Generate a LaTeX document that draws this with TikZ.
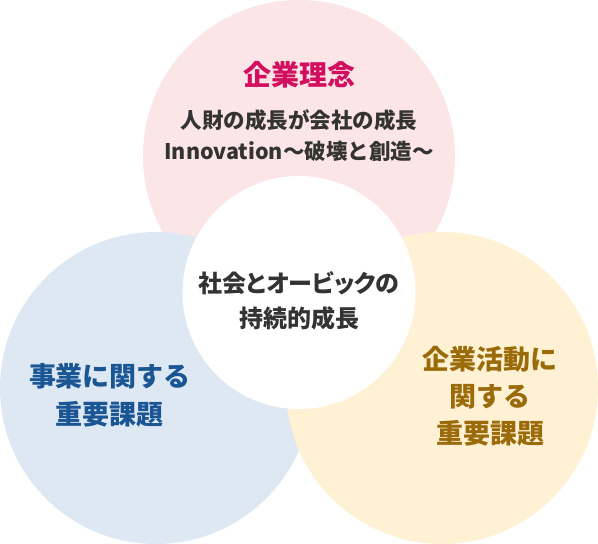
\documentclass[tikz,border=0pt]{standalone}
\usepackage{fontspec}
\setmainfont{Noto Sans CJK JP}
\newfontfamily\jppalt{Noto Sans CJK JP}[RawFeature=+palt]
\definecolor{pinkfill}{HTML}{FCE5E6}
\definecolor{bluefill}{HTML}{DDE8F3}
\definecolor{yellowfill}{HTML}{FEF1D4}
\definecolor{pinktext}{HTML}{D20F5F}
\definecolor{bluetext}{HTML}{1A5594}
\definecolor{goldtext}{HTML}{9B6B0A}
\definecolor{graytext}{HTML}{333333}
\begin{document}
\begin{tikzpicture}[x=1pt,y=-1pt,
  bigcircle/.style={circle,minimum size=312pt,inner sep=0pt,draw=none},
  lbl/.style={align=center,inner sep=0pt,font=\bfseries}]
\useasboundingbox (0,0) rectangle (598,544);
\node[bigcircle,fill=pinkfill] (pink) at (299,156) {};
\node[bigcircle,fill=bluefill] (blue) at (156,388) {};
\node[bigcircle,fill=yellowfill] (yellow) at (442,388) {};
\node[circle,minimum size=233pt,inner sep=0pt,fill=white] (core) at (299,292.5) {};
\node[lbl,text=pinktext,font=\bfseries\fontsize{28}{34}\selectfont] (title) at (299,75) {企業理念};
\node[lbl,text=graytext,font=\bfseries\fontsize{21.5}{31}\selectfont] (motto) at (299,136) {人財の成長が会社の成長\\Innovation～破壊と創造～};
\node[lbl,text=graytext,font=\jppalt\bfseries\fontsize{24}{35}\selectfont] (center) at (299,300.5) {社会とオービックの\\持続的成長};
\node[lbl,text=bluetext,font=\bfseries\fontsize{27}{38}\selectfont] (business) at (110,395) {事業に関する\\重要課題};
\node[lbl,text=goldtext,font=\bfseries\fontsize{27}{37}\selectfont] (activity) at (490,396.5) {企業活動に\\関する\\重要課題};
\end{tikzpicture}
\end{document}
